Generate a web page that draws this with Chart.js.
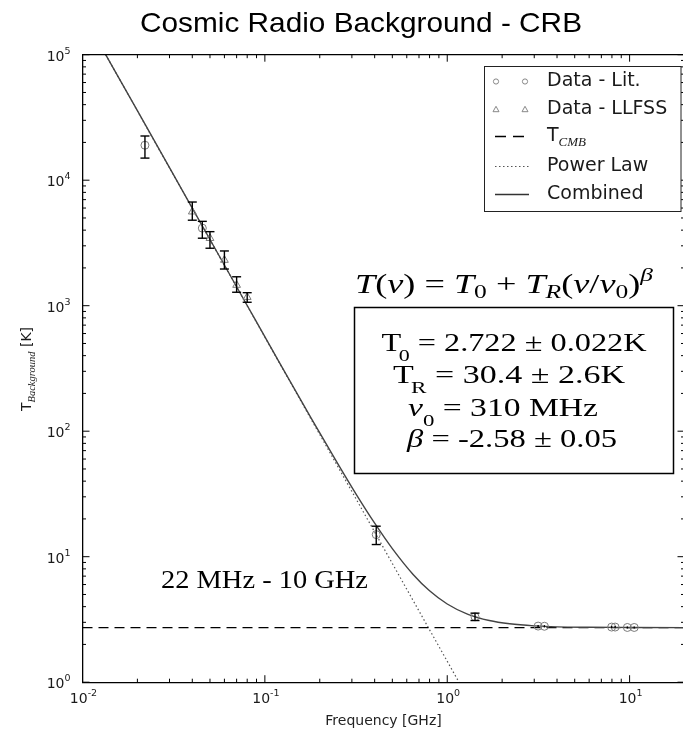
<!DOCTYPE html>
<html>
<head>
<meta charset="utf-8">
<script src="https://cdn.jsdelivr.net/npm/chart.js@4.4.0/dist/chart.umd.min.js"></script>
<style>
  html, body { margin: 0; padding: 0; background: #fff; overflow: hidden; }
  #wrap { width: 690px; height: 730px; }
</style>
</head>
<body>
<div id="wrap"><canvas id="crb" width="690" height="730"></canvas></div>
<script>
// values: frequency in GHz, temperature in K

// Data - Lit. (circles) with error bar ends
const litFreq = [0.022, 0.0454, 0.408, 1.42, 3.15, 3.41, 7.97, 8.33, 9.72, 10.6];
const litTemp = [19000, 4150, 15.0, 3.32, 2.80, 2.79, 2.75, 2.75, 2.73, 2.73];
const litLow  = [15000, 3450, 12.5, 3.10, 2.74, 2.73, 2.70, 2.70, 2.68, 2.68];
const litHigh = [22500, 4700, 17.5, 3.55, 2.86, 2.85, 2.80, 2.80, 2.78, 2.78];

// Data - LLFSS (triangles)
const llfssFreq = [0.04, 0.05, 0.06, 0.07, 0.08];
const llfssTemp = [5610, 3450, 2310, 1460, 1170];
const llfssLow  = [4800, 2870, 1960, 1280, 1065];
const llfssHigh = [6700, 3890, 2730, 1700, 1270];

// Combined curve
const combFreq = [0.0134, 0.02, 0.03, 0.05, 0.08, 0.12, 0.18, 0.25, 0.32, 0.4, 0.5, 0.65, 0.8, 1.0, 1.3, 1.7, 2.2, 3, 4, 6, 10, 20];
const combTemp = [100000, 35800, 12600, 3370, 1004, 354, 126, 55.7, 30.7, 18.5, 11.6, 7.22, 5.35, 4.20, 3.47, 3.10, 2.92, 2.81, 2.76, 2.74, 2.73, 2.72];

// Power law (dotted)
const plFreq = [0.0134, 0.31, 1.16];
const plTemp = [100000, 30.4, 1.0];

// T_CMB (dashed)
const cmbFreq = [0.01, 20];
const cmbTemp = [2.722, 2.722];

// axis ticks
const xTickVals = [0.01, 0.1, 1, 10];
const xTickExps = ['-2', '-1', '0', '1'];
const yTickVals = [1, 10, 100, 1000, 10000, 100000];
const yTickExps = ['0', '1', '2', '3', '4', '5'];

const fitLines = ['2.722 \u00b1 0.022K', '30.4 \u00b1 2.6K', '310 MHz', '-2.58 \u00b1 0.05'];

const sans = '"DejaVu Sans", sans-serif';
const serif = '"Liberation Serif", "Times New Roman", serif';

function pts(xs, ys) {
  return xs.map((x, i) => ({ x: x, y: ys[i] }));
}

// draw a row of text pieces, optionally stretched horizontally to a width
function runs(ctx, parts, x, y, align, width) {
  let w = 0;
  parts.forEach(p => {
    ctx.font = p.f;
    p.w = ctx.measureText(p.t).width;
    w += p.w + (p.k || 0);
  });
  const sx = width ? width / w : 1;
  const x0 = align === 'center' ? x - (w * sx) / 2 : align === 'right' ? x - w * sx : x;
  ctx.save();
  ctx.translate(x0, y);
  ctx.scale(sx, 1);
  let cx = 0;
  parts.forEach(p => {
    cx += p.k || 0;
    ctx.font = p.f;
    ctx.fillText(p.t, cx, p.dy || 0);
    cx += p.w;
  });
  ctx.restore();
  return w * sx;
}

function seg(ctx, x1, y1, x2, y2) {
  ctx.beginPath();
  ctx.moveTo(x1, y1);
  ctx.lineTo(x2, y2);
  ctx.stroke();
}

const errorBars = {
  id: 'errorBars',
  afterDatasetsDraw(chart) {
    const ctx = chart.ctx, xs = chart.scales.x, ys = chart.scales.y;
    const sets = [[litFreq, litLow, litHigh], [llfssFreq, llfssLow, llfssHigh]];
    ctx.save();
    ctx.strokeStyle = '#000';
    ctx.lineWidth = 1.4;
    sets.forEach(s => {
      s[0].forEach((f, i) => {
        const px = xs.getPixelForValue(f);
        const y1 = ys.getPixelForValue(s[1][i]);
        const y2 = ys.getPixelForValue(s[2][i]);
        seg(ctx, px, y1, px, y2);
        if (y1 - y2 > 3) {
          seg(ctx, px - 4.5, y1, px + 4.5, y1);
          seg(ctx, px - 4.5, y2, px + 4.5, y2);
        }
      });
    });
    ctx.restore();
  }
};

const decor = {
  id: 'decor',
  afterDraw(chart) {
    const ctx = chart.ctx, a = chart.chartArea;
    const xs = chart.scales.x, ys = chart.scales.y;
    ctx.save();

    // top frame line
    ctx.strokeStyle = '#000';
    ctx.lineWidth = 1.3;
    seg(ctx, a.left, a.top, a.right, a.top);

    // inward ticks on all four sides
    ctx.lineWidth = 1;
    for (let e = -2; e <= 1; e++) {
      for (let m = 1; m <= 9; m++) {
        const v = m * Math.pow(10, e);
        if (v > xs.max) continue;
        const px = xs.getPixelForValue(v);
        const len = m === 1 ? 7 : 3.5;
        seg(ctx, px, a.bottom, px, a.bottom - len);
        seg(ctx, px, a.top, px, a.top + len);
      }
    }
    for (let e = 0; e <= 5; e++) {
      for (let m = 1; m <= 9; m++) {
        const v = m * Math.pow(10, e);
        if (v > ys.max) continue;
        const py = ys.getPixelForValue(v);
        const len = m === 1 ? 7 : 3.5;
        seg(ctx, a.left, py, a.left + len, py);
        seg(ctx, a.right, py, a.right - len, py);
      }
    }

    // tick labels
    ctx.fillStyle = '#1a1a1a';
    ctx.textBaseline = 'alphabetic';
    const big = '14px ' + sans, small = '9.5px ' + sans;
    xTickVals.forEach((v, i) => {
      runs(ctx, [{ t: '10', f: big }, { t: xTickExps[i], f: small, dy: -7 }],
        xs.getPixelForValue(v) + 1, 703, 'center');
    });
    yTickVals.forEach((v, i) => {
      runs(ctx, [{ t: '10', f: big }, { t: yTickExps[i], f: small, dy: -7 }],
        a.left - 12, ys.getPixelForValue(v) + 6, 'right');
    });

    // y axis label
    ctx.save();
    ctx.translate(31, 369);
    ctx.rotate(-Math.PI / 2);
    runs(ctx, [
      { t: 'T', f: '14px ' + sans },
      { t: 'Background', f: 'italic 10.5px ' + serif, dy: 3.5 },
      { t: ' [K]', f: '14px ' + sans }
    ], 0, 0, 'center');
    ctx.restore();

    // title
    ctx.fillStyle = '#000';
    runs(ctx, [{ t: 'Cosmic Radio Background - CRB', f: '28px "Liberation Sans", Arial, sans-serif' }],
      361, 32, 'center', 442);

    // legend
    const lx = 484.5, ly = 66.5, lw = 196.5, lh = 145;
    ctx.fillStyle = '#fff';
    ctx.fillRect(lx, ly, lw, lh);
    ctx.strokeStyle = '#222';
    ctx.lineWidth = 1;
    ctx.strokeRect(lx, ly, lw, lh);
    const rows = [81.5, 109.5, 137.5, 166.5, 194.5];
    ctx.strokeStyle = '#888';
    [496, 525].forEach(cx => {
      ctx.beginPath();
      ctx.arc(cx, rows[0], 2.6, 0, Math.PI * 2);
      ctx.stroke();
      ctx.beginPath();
      ctx.moveTo(cx, rows[1] - 3.2);
      ctx.lineTo(cx + 3, rows[1] + 2.2);
      ctx.lineTo(cx - 3, rows[1] + 2.2);
      ctx.closePath();
      ctx.stroke();
    });
    ctx.strokeStyle = '#000';
    ctx.lineWidth = 1.4;
    ctx.setLineDash([11, 7]);
    seg(ctx, 495, rows[2] - 1, 529, rows[2] - 1);
    ctx.strokeStyle = '#555';
    ctx.lineWidth = 1.2;
    ctx.setLineDash([1.5, 2.5]);
    seg(ctx, 495, rows[3], 529, rows[3]);
    ctx.setLineDash([]);
    ctx.strokeStyle = '#333';
    ctx.lineWidth = 1.3;
    seg(ctx, 495, rows[4], 529, rows[4]);

    ctx.fillStyle = '#1a1a1a';
    ctx.textBaseline = 'middle';
    const lf = '19px ' + sans;
    runs(ctx, [{ t: 'Data - Lit.', f: lf }], 547, rows[0], 'left');
    runs(ctx, [{ t: 'Data - LLFSS', f: lf }], 547, rows[1], 'left');
    runs(ctx, [{ t: 'T', f: lf }, { t: 'CMB', f: 'italic 13px ' + serif, dy: 6 }], 547, rows[2] - 1, 'left');
    runs(ctx, [{ t: 'Power Law', f: lf }], 547, rows[3], 'left');
    runs(ctx, [{ t: 'Combined', f: lf }], 547, rows[4], 'left');

    // model formula
    ctx.fillStyle = '#000';
    ctx.textBaseline = 'alphabetic';
    const I = 'italic 27px ' + serif, R = '27px ' + serif, Is = 'italic 19px ' + serif, Rs = '19px ' + serif;
    runs(ctx, [
      { t: 'T', f: I }, { t: '(', f: R }, { t: '\u03bd', f: I }, { t: ')', f: R },
      { t: ' = ', f: R }, { t: 'T', f: I }, { t: '0', f: Rs, dy: 5 },
      { t: ' + ', f: R }, { t: 'T', f: I }, { t: 'R', f: Is, dy: 5 },
      { t: '(', f: R }, { t: '\u03bd', f: I }, { t: '/', f: R }, { t: '\u03bd', f: I },
      { t: '0', f: Rs, dy: 5 }, { t: ')', f: R }, { t: '\u03b2', f: Is, dy: -12 }
    ], 355, 293, 'left', 298);

    // fit parameter box
    ctx.fillStyle = '#fff';
    ctx.fillRect(354.5, 307.5, 319, 166);
    ctx.strokeStyle = '#000';
    ctx.lineWidth = 1.5;
    ctx.strokeRect(354.5, 307.5, 319, 166);
    ctx.fillStyle = '#000';
    const B = '25px ' + serif, Bs = '17px ' + serif, Bi = 'italic 25px ' + serif;
    const eq = { t: ' = ', f: B };
    runs(ctx, [{ t: 'T', f: B }, { t: '0', f: Bs, dy: 10, k: -2 }, eq, { t: fitLines[0], f: B }], 514, 350.5, 'center', 265);
    runs(ctx, [{ t: 'T', f: B }, { t: 'R', f: Bs, dy: 10, k: -2 }, eq, { t: fitLines[1], f: B }], 509, 383, 'center', 232);
    runs(ctx, [{ t: '\u03bd', f: Bi }, { t: '0', f: Bs, dy: 10 }, eq, { t: fitLines[2], f: B }], 503, 415.5, 'center', 190);
    runs(ctx, [{ t: '\u03b2', f: Bi }, eq, { t: fitLines[3], f: B }], 512, 447, 'center', 210);

    // frequency range note
    runs(ctx, [{ t: '22 MHz - 10 GHz', f: '25px ' + serif }], 161, 588, 'left', 207);

    ctx.restore();
  }
};

new Chart('crb', {
  type: 'scatter',
  data: {
    datasets: [
      {
        label: 'Data - Lit.',
        data: pts(litFreq, litTemp),
        pointStyle: 'circle',
        pointRadius: 4,
        borderColor: '#7a7a7a',
        backgroundColor: 'rgba(0,0,0,0)',
        borderWidth: 1
      },
      {
        label: 'Data - LLFSS',
        data: pts(llfssFreq, llfssTemp),
        pointStyle: 'triangle',
        pointRadius: 4.5,
        borderColor: '#7a7a7a',
        backgroundColor: 'rgba(0,0,0,0)',
        borderWidth: 1
      },
      {
        label: 'Combined',
        data: pts(combFreq, combTemp),
        showLine: true,
        cubicInterpolationMode: 'monotone',
        borderColor: '#444',
        borderWidth: 1.4,
        pointRadius: 0
      },
      {
        label: 'T_CMB',
        data: pts(cmbFreq, cmbTemp),
        showLine: true,
        borderColor: '#000',
        borderWidth: 1.4,
        borderDash: [10, 6],
        pointRadius: 0
      },
      {
        label: 'Power Law',
        data: pts(plFreq, plTemp),
        showLine: true,
        borderColor: '#555',
        borderWidth: 1.2,
        borderDash: [1.5, 2.5],
        pointRadius: 0
      }
    ]
  },
  options: {
    responsive: false,
    animation: false,
    devicePixelRatio: 1,
    layout: { padding: { top: 54.7, right: 3.4, left: 0, bottom: 0 } },
    plugins: {
      legend: { display: false },
      title: { display: false },
      tooltip: { enabled: false }
    },
    scales: {
      x: {
        type: 'logarithmic',
        min: 0.01,
        max: 20,
        grid: { display: false },
        border: { display: true, color: '#000', width: 1.3 },
        ticks: { display: false },
        title: {
          display: true,
          text: 'Frequency [GHz]',
          color: '#222',
          font: { family: 'DejaVu Sans', size: 14 },
          padding: 0
        },
        afterFit(scale) { scale.height = 47.8; }
      },
      y: {
        type: 'logarithmic',
        min: 1,
        max: 100000,
        grid: { display: false },
        border: { display: true, color: '#000', width: 1.3 },
        ticks: { display: false },
        afterFit(scale) { scale.width = 82.5; }
      }
    }
  },
  plugins: [errorBars, decor]
});
</script>
</body>
</html>
